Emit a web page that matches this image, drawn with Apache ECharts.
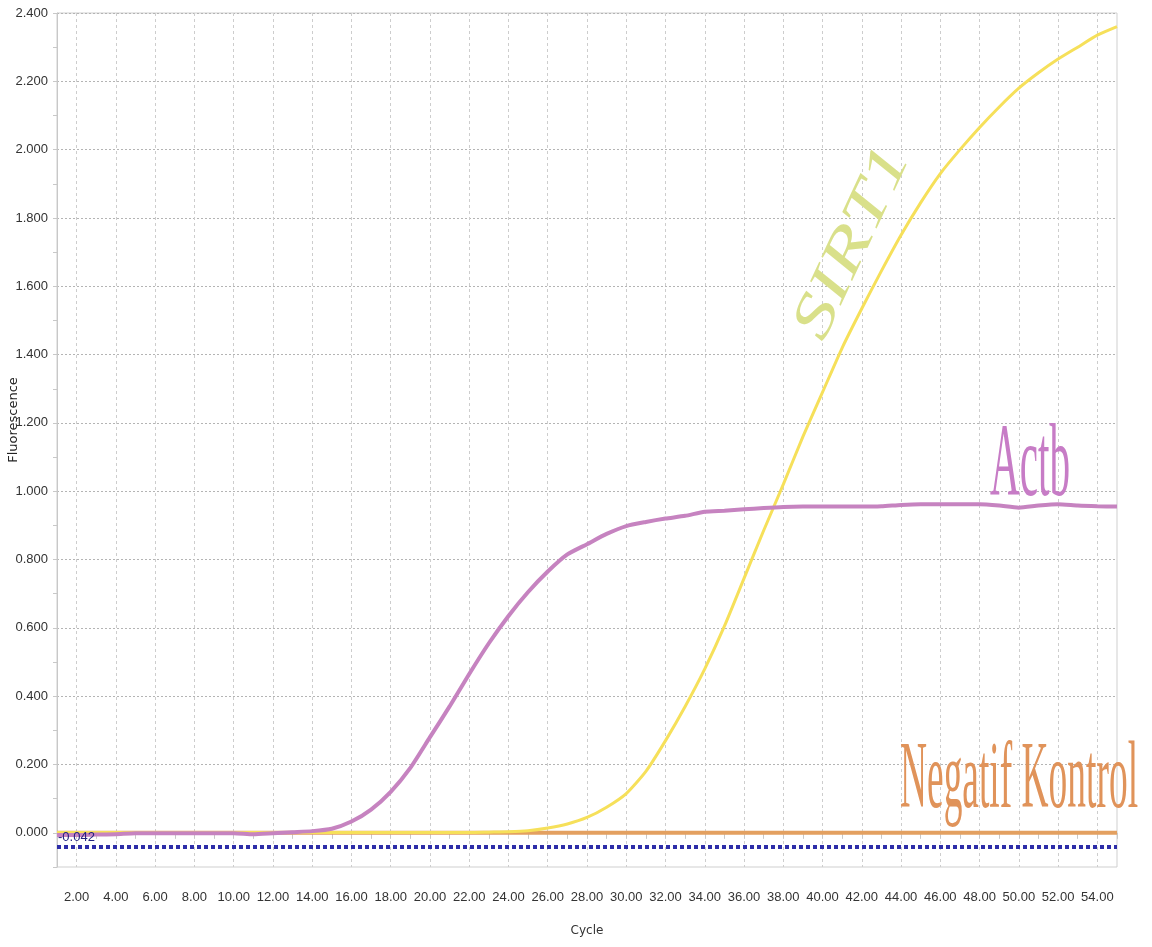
<!DOCTYPE html>
<html>
<head>
<meta charset="utf-8">
<script src="https://cdn.jsdelivr.net/npm/echarts@6/dist/echarts.min.js"></script>
<style>
html,body{margin:0;padding:0;background:#fff;}
#chart{width:1152px;height:947px;}
</style>
</head>
<body>
<div id="chart"></div>
<script>
const cycles = [1,2,3,4,5,6,7,8,9,10,11,12,13,14,15,16,17,18,19,20,21,22,23,24,25,26,27,28,29,30,31,32,33,34,35,36,37,38,39,40,41,42,43,44,45,46,47,48,49,50,51,52,53,54,55];
const actb = [-0.006,-0.006,-0.005,-0.004,-0.001,-0.001,-0.001,-0.001,-0.001,-0.001,-0.004,-0.001,0.002,0.005,0.012,0.033,0.068,0.12,0.19,0.28,0.37,0.465,0.555,0.635,0.705,0.765,0.815,0.845,0.875,0.898,0.91,0.92,0.928,0.94,0.943,0.947,0.951,0.954,0.955,0.955,0.955,0.955,0.956,0.96,0.962,0.962,0.962,0.962,0.958,0.952,0.958,0.962,0.958,0.956,0.955];
const sirt1 = [0.001,0.001,0.001,0.001,0.001,0.001,0.001,0.001,0.001,0.001,0.001,0.001,0.001,0.001,0.001,0.001,0.001,0.001,0.001,0.001,0.001,0.001,0.002,0.003,0.006,0.014,0.026,0.045,0.075,0.115,0.18,0.27,0.37,0.48,0.605,0.745,0.885,1.02,1.16,1.29,1.42,1.535,1.645,1.75,1.845,1.93,2.0,2.065,2.125,2.18,2.225,2.265,2.3,2.335,2.36];
const negatif = [0,0,0,0,0,0,0,0,0,0,0,0,0,0,0,0,0,0,0,0,0,0,0,0,0,0,0,0,0,0,0,0,0,0,0,0,0,0,0,0,0,0,0,0,0,0,0,0,0,0,0,0,0,0,0];
const threshold = -0.042;
const seriesNames = ['Negatif Kontrol', 'SIRT1', 'Actb'];

const labelFont = '"Liberation Sans", Arial, sans-serif';
const evenCycle = (i, v) => Number(v) % 2 === 0;

const chart = echarts.init(document.getElementById('chart'), null, {renderer: 'canvas'});
chart.setOption({
  animation: false,
  backgroundColor: '#ffffff',
  grid: {left: 57, right: 35, top: 13, bottom: 80, show: true, borderColor: '#cfcfcf', borderWidth: 1,
         containLabel: false, outerBoundsMode: 'none'},
  xAxis: {
    type: 'category', data: cycles, boundaryGap: false,
    name: 'Cycle', nameLocation: 'middle', nameGap: 58, nameMoveOverlap: false,
    nameTextStyle: {fontFamily: 'DejaVu Sans', fontSize: 12, color: '#333'},
    axisLine: {show: true, lineStyle: {color: '#c4cad8', width: 1}},
    axisTick: {show: true, interval: 0, length: 6, lineStyle: {color: '#c8c8c8'}},
    axisLabel: {
      interval: evenCycle, margin: 24, color: '#333', fontFamily: labelFont, fontSize: 13,
      formatter: v => Number(v).toFixed(2)
    },
    splitLine: {show: true, interval: evenCycle, lineStyle: {color: '#cdcdcd', type: [3, 3], width: 1}}
  },
  yAxis: {
    type: 'value', min: -0.1, max: 2.4, interval: 0.1,
    name: 'Fluorescence', nameLocation: 'middle', nameGap: 37, nameRotate: 90, nameMoveOverlap: false,
    nameTextStyle: {fontFamily: 'DejaVu Sans', fontSize: 13, color: '#222', padding: [0, 0, 0, 40]},
    axisLine: {show: true, lineStyle: {color: '#c8c8c8', width: 1}},
    axisTick: {show: true, length: 4, lineStyle: {color: '#c8c8c8'}},
    axisLabel: {
      margin: 9, color: '#333', fontFamily: labelFont, fontSize: 13,
      formatter: v => (Math.round(v * 10) % 2 === 0 ? v.toFixed(3) : '')
    },
    splitLine: {show: true, lineStyle: {color: ['rgba(0,0,0,0)', '#b4b4b4'], type: [2, 2], width: 1}}
  },
  series: [
    {
      name: seriesNames[0], type: 'line', data: negatif, showSymbol: false, smooth: 0.2,
      lineStyle: {color: '#e3a060', width: 4}, z: 2,
      markLine: {
        silent: true, symbol: 'none',
        lineStyle: {color: '#2d2da8', type: [4, 3], width: 4},
        label: {show: true, position: 'insideStartTop', formatter: '-0.042', color: '#23237f',
                fontFamily: labelFont, fontSize: 13, distance: [1, 3]},
        data: [{yAxis: threshold}]
      }
    },
    {
      name: seriesNames[1], type: 'line', data: sirt1, showSymbol: false, smooth: 0.2,
      lineStyle: {color: '#f6e05a', width: 3}, z: 3
    },
    {
      name: seriesNames[2], type: 'line', data: actb, showSymbol: false, smooth: 0.2,
      lineStyle: {color: '#c683c0', width: 4}, z: 4
    }
  ],
  graphic: [
    {type: 'text', x: 853, y: 243, rotation: 65 * Math.PI / 180, scaleX: 1.42, z: 10,
      style: {text: 'SIRT1', font: 'italic 58px "Liberation Serif", serif', fill: '#d9e08a', align: 'center', verticalAlign: 'middle'}},
    {type: 'text', x: 990, y: 468, scaleX: 0.40, z: 10,
      style: {text: 'Actb', font: '103px "Liberation Serif", serif', fill: '#c77cc6', align: 'left', verticalAlign: 'middle'}},
    {type: 'text', x: 900, y: 782, scaleX: 0.394, z: 10,
      style: {text: 'Negatif Kontrol', font: '95px "Liberation Serif", serif', fill: '#e0935a', align: 'left', verticalAlign: 'middle'}}
  ]
});
</script>
</body>
</html>
